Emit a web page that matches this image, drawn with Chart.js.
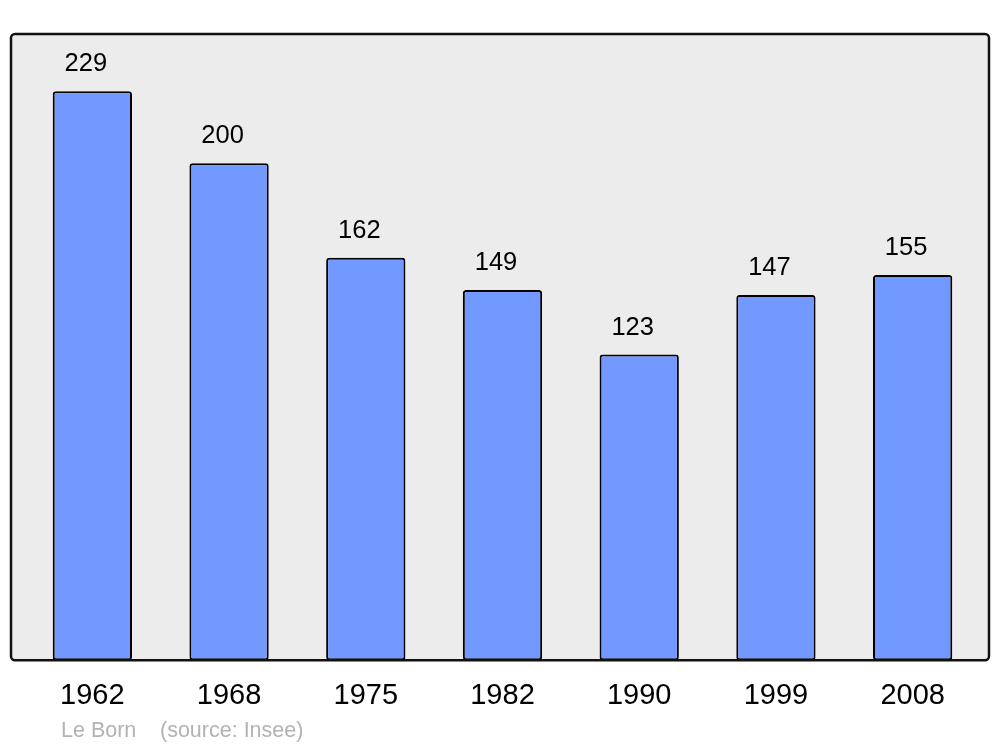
<!DOCTYPE html>
<html>
<head>
<meta charset="utf-8">
<title>Le Born - population</title>
<script src="https://cdn.jsdelivr.net/npm/chart.js@4/dist/chart.umd.min.js"></script>
<style>
  html, body { margin: 0; padding: 0; background: #fff; }
  #wrap { width: 1000px; height: 747px; position: relative; }
</style>
</head>
<body>
<div id="wrap"><canvas id="popChart" width="1000" height="747"></canvas></div>
<script>
// ===== Données =====
const years = ['1962', '1968', '1975', '1982', '1990', '1999', '2008'];
const population = [229, 200, 162, 149, 123, 147, 155];
const commune = 'Le Born';
const sourceText = '(source: Insee)';

const FONT = '"Liberation Sans", Arial, sans-serif';

// cadre gris derrière les barres, bordure noire par-dessus
const framePlugin = {
  id: 'frame',
  beforeDatasetsDraw(chart) {
    const { ctx, chartArea: a } = chart;
    ctx.save();
    ctx.beginPath();
    ctx.roundRect(a.left - 13, a.top, a.right - a.left + 21, a.bottom - a.top, 4);
    ctx.fillStyle = '#ececec';
    ctx.fill();
    ctx.restore();
  },
  afterDatasetsDraw(chart) {
    const { ctx, chartArea: a } = chart;
    ctx.save();
    ctx.beginPath();
    ctx.roundRect(a.left - 13, a.top, a.right - a.left + 21, a.bottom - a.top, 4);
    ctx.lineWidth = 2.5;
    ctx.strokeStyle = '#111';
    ctx.stroke();
    ctx.restore();
  }
};

// valeurs au-dessus des barres + pied de page
const labelPlugin = {
  id: 'valueLabels',
  afterDraw(chart) {
    const { ctx, chartArea: a } = chart;
    const meta = chart.getDatasetMeta(0);
    ctx.save();
    ctx.fillStyle = '#000';
    ctx.font = '25.5px ' + FONT;
    ctx.textAlign = 'center';
    ctx.textBaseline = 'middle';
    meta.data.forEach((bar, i) => {
      ctx.fillText(String(population[i]), bar.x - 6.5, bar.y - 27);
    });
    ctx.font = '21.5px ' + FONT;
    ctx.fillStyle = '#b3b3b3';
    ctx.textAlign = 'left';
    ctx.textBaseline = 'alphabetic';
    ctx.fillText(commune, a.left + 37, 737);
    ctx.fillText(sourceText, a.left + 136, 737);
    ctx.restore();
  }
};

new Chart(document.getElementById('popChart'), {
  type: 'bar',
  data: {
    labels: years,
    datasets: [{
      data: population,
      backgroundColor: '#7299ff',
      borderColor: '#000',
      borderWidth: 2,
      borderRadius: 3,
      borderSkipped: false,
      categoryPercentage: 1,
      barPercentage: 0.58
    }]
  },
  options: {
    responsive: false,
    animation: false,
    events: [],
    layout: { padding: { left: 24, right: 19, top: 34, bottom: 16 } },
    plugins: { legend: { display: false }, tooltip: { enabled: false } },
    scales: {
      x: {
        grid: { display: false, drawTicks: false },
        border: { display: false },
        ticks: { color: '#000', font: { family: FONT, size: 29 }, padding: 18 }
      },
      y: {
        display: false,
        min: 0,
        max: 252
      }
    }
  },
  plugins: [framePlugin, labelPlugin]
});
</script>
</body>
</html>
